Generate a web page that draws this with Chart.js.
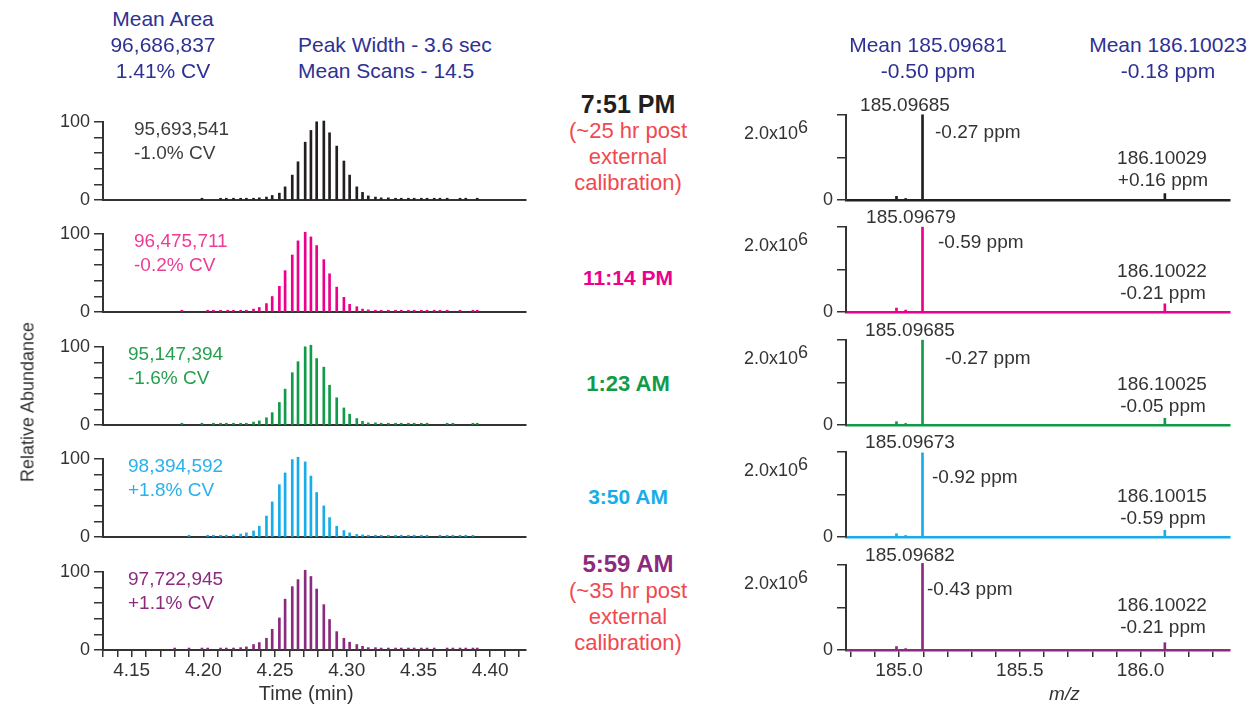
<!DOCTYPE html>
<html>
<head>
<meta charset="utf-8">
<title>Peak area and mass accuracy stability</title>
<script src="https://cdn.jsdelivr.net/npm/chart.js@4.4.1/dist/chart.umd.min.js"></script>
<style>
  html, body { margin: 0; padding: 0; background: #fff; }
  #page { position: relative; width: 1254px; height: 709px; overflow: hidden;
          font-family: "Liberation Sans", Arial, sans-serif; }
  #page canvas { position: absolute; }
  .txt { position: absolute; white-space: nowrap; line-height: 1; font-size: 19px; }
  .c { transform: translate(-50%, -50%); }
  .lft { transform: translate(0, -50%); }
  .hdr { color: #2e3192; font-size: 21px; }
  .time { font-weight: bold; }
  .note { color: #f0494f; font-size: 22px; }
  .ytitle { position: absolute; left: 28px; top: 402px; font-size: 18px; color: #333;
            white-space: nowrap; transform: translate(-50%, -50%) rotate(-90deg); }
</style>
</head>
<body>
<div id="page"></div>
<script>
// --- DATA ---
const runTimes = ['7:51 PM', '11:14 PM', '1:23 AM', '3:50 AM', '5:59 AM'];
const areaLabels = ['95,693,541', '96,475,711', '95,147,394', '98,394,592', '97,722,945'];
const cvLabels = ['-1.0% CV', '-0.2% CV', '-1.6% CV', '+1.8% CV', '+1.1% CV'];

// scan times (min) and relative abundance (%) per run
const scanTimes = [
  [4.199, 4.212, 4.216, 4.221, 4.226, 4.230, 4.235, 4.239, 4.244, 4.248, 4.253, 4.257, 4.262, 4.266,
   4.271, 4.275, 4.279, 4.284, 4.288, 4.293, 4.298, 4.302, 4.307, 4.311, 4.315, 4.320, 4.324, 4.329,
   4.334, 4.338, 4.343, 4.347, 4.352, 4.356, 4.361, 4.365, 4.370, 4.379, 4.383, 4.391],
  [4.185, 4.203, 4.207, 4.212, 4.217, 4.221, 4.226, 4.230, 4.235, 4.239, 4.244, 4.248, 4.253, 4.257,
   4.262, 4.266, 4.271, 4.275, 4.279, 4.284, 4.288, 4.293, 4.298, 4.302, 4.307, 4.311, 4.315, 4.320,
   4.324, 4.329, 4.334, 4.338, 4.343, 4.347, 4.352, 4.356, 4.361, 4.365, 4.370, 4.379, 4.388, 4.391],
  [4.185, 4.199, 4.207, 4.212, 4.216, 4.221, 4.226, 4.230, 4.235, 4.239, 4.244, 4.248, 4.253, 4.257,
   4.262, 4.266, 4.271, 4.275, 4.279, 4.284, 4.288, 4.293, 4.298, 4.302, 4.307, 4.311, 4.315, 4.320,
   4.324, 4.329, 4.334, 4.338, 4.343, 4.347, 4.352, 4.356, 4.370, 4.374, 4.388, 4.391],
  [4.190, 4.203, 4.207, 4.212, 4.216, 4.221, 4.226, 4.230, 4.235, 4.239, 4.244, 4.248, 4.253, 4.257,
   4.262, 4.266, 4.271, 4.275, 4.279, 4.284, 4.288, 4.293, 4.298, 4.302, 4.307, 4.311, 4.315, 4.320,
   4.324, 4.329, 4.334, 4.338, 4.343, 4.347, 4.352, 4.356, 4.365, 4.370, 4.374, 4.379, 4.383, 4.388],
  [4.180, 4.190, 4.199, 4.203, 4.212, 4.216, 4.221, 4.226, 4.230, 4.235, 4.239, 4.244, 4.248, 4.253,
   4.257, 4.262, 4.266, 4.271, 4.275, 4.279, 4.284, 4.288, 4.293, 4.298, 4.302, 4.307, 4.311, 4.315,
   4.320, 4.324, 4.329, 4.334, 4.338, 4.343, 4.347, 4.352, 4.356, 4.361, 4.370, 4.374, 4.379, 4.383,
   4.388, 4.391]
];
const scanAbund = [
  [2.5, 2.5, 2.5, 2.5, 2.5, 2.5, 2.5, 3, 4, 6, 9, 17, 32, 49, 74, 89, 100, 101, 86, 69, 50, 32,
   17, 10, 5.5, 4, 3, 3, 2.5, 2.5, 2.5, 2.5, 2.5, 2.5, 2.5, 2.5, 2.5, 2.5, 2.5, 2.5],
  [2.5, 2.5, 2.5, 2.5, 2.5, 2.5, 2.5, 2.5, 4, 6, 11, 20, 33, 53, 73, 91, 102, 96, 85, 67, 49, 32,
   19, 10, 7, 4, 3, 2.5, 2.5, 2.5, 2.5, 2.5, 2.5, 2.5, 2.5, 2.5, 2.5, 2.5, 2.5, 2.5, 2.5, 2.5],
  [2.5, 2.5, 2.5, 2.5, 2.5, 2.5, 2.5, 2.5, 4, 5.5, 9.5, 16, 29, 46, 67, 81, 100, 102, 85, 74, 51,
   35, 22, 14, 8.5, 5, 3, 3, 2.5, 2.5, 2.5, 2.5, 2.5, 2.5, 2.5, 2.5, 2.5, 2.5, 2.5, 2.5],
  [2.5, 2.5, 2.5, 2.5, 2.5, 3, 4, 5.5, 8, 14, 27, 45, 67, 82, 99, 102, 96, 78, 57, 40, 25, 14,
   8.5, 5.5, 3.5, 3, 2.5, 2.5, 2.5, 2.5, 2.5, 2.5, 2.5, 2.5, 2.5, 2.5, 2.5, 2.5, 2.5, 2.5, 2.5, 2.5],
  [2.5, 2.5, 2.5, 2.5, 2.5, 2.5, 2.5, 3, 4, 7, 9.5, 15, 26.5, 41, 65, 81, 90, 102, 94, 78, 58, 39,
   23.5, 15, 10, 7, 4.7, 3, 3, 2.5, 2.5, 2.5, 2.5, 2.5, 2.5, 2.5, 2.5, 2.5, 2.5, 2.5, 2.5, 2.5,
   2.5, 2.5]
];

// spectra: m/z and intensity per run
const specMz = [
  [184.989, 185.027, 185.09685, 186.10029],
  [184.989, 185.027, 185.09679, 186.10022],
  [184.989, 185.027, 185.09685, 186.10025],
  [184.989, 185.027, 185.09673, 186.10015],
  [184.989, 185.027, 185.09682, 186.10022]
];
const specInt = [
  [0.11e6, 0.05e6, 2.45e6, 0.19e6],
  [0.12e6, 0.06e6, 2.44e6, 0.24e6],
  [0.10e6, 0.05e6, 2.44e6, 0.20e6],
  [0.10e6, 0.05e6, 2.42e6, 0.20e6],
  [0.10e6, 0.04e6, 2.49e6, 0.21e6]
];
const mainPpm = ['-0.27 ppm', '-0.59 ppm', '-0.27 ppm', '-0.92 ppm', '-0.43 ppm'];
const isoPpm = ['+0.16 ppm', '-0.21 ppm', '-0.05 ppm', '-0.59 ppm', '-0.21 ppm'];

// --- LAYOUT / STYLE ---
const panelColors = ['#231f20', '#ec008c', '#119b48', '#17ade8', '#8b2a7f'];
const labelColors = ['#3d3d3d', '#ec3c94', '#26a04f', '#29b1ea', '#8b2a7f'];
const axisColor = '#333';
const rowBase = [200, 312, 425, 537, 650];      // y of the zero line in each row
const areaX = [134, 134, 128, 128, 128];
const mainLabelX = [905, 911, 910, 910, 910];
const mainPpmX = [935, 938, 945, 932, 927];
const mainPpmDy = [-69, -71, -68, -61, -62];
const isoDy = [-43, -42, -42, -42, -46];
const timeY = [104, 277, 384, 496, 564];
const timeSize = [25, 21, 22, 21, 24];

Chart.defaults.font.family = '"Liberation Sans", Arial, sans-serif';
Chart.defaults.font.size = 18;
Chart.defaults.color = axisColor;

const page = document.getElementById('page');

function addText(text, x, y, cls, color) {
  const d = document.createElement('div');
  d.className = 'txt ' + cls;
  d.style.left = x + 'px';
  d.style.top = y + 'px';
  if (color) d.style.color = color;
  d.textContent = text;
  page.appendChild(d);
  return d;
}

function makeCanvas(left, w, h) {
  const cv = document.createElement('canvas');
  cv.width = w; cv.height = h;
  cv.style.left = left + 'px';
  cv.style.top = '0px';
  page.appendChild(cv);
  return cv;
}

// grow/shrink the canvas so the plot area is plotH tall, then sit its baseline on y0
function fitRow(chart, cv, plotH, y0) {
  const a = chart.chartArea;
  const extra = Math.round(plotH - (a.bottom - a.top));
  if (extra !== 0) chart.resize(cv.width, chart.height + extra);
  cv.style.top = Math.round(y0 - chart.chartArea.bottom) + 'px';
}

// "2.0x10^6" label on the spectrum y axis
const sciLabel = {
  id: 'sciLabel',
  afterDraw(chart) {
    const ys = chart.scales.y, ctx = chart.ctx;
    const py = ys.getPixelForValue(2e6);
    const right = ys.right - 38;
    ctx.save();
    ctx.font = '18px "Liberation Sans", Arial, sans-serif';
    ctx.fillStyle = axisColor;
    ctx.textBaseline = 'middle';
    ctx.textAlign = 'right';
    const w6 = ctx.measureText('6').width;
    ctx.fillText('6', right, py - 2);
    ctx.fillText('2.0x10', right - w6, py + 4);
    ctx.restore();
  }
};

// --- CHROMATOGRAMS ---
function buildChrom(i) {
  const bottom = i === rowBase.length - 1;
  const xH = bottom ? 56 : 6;
  const cv = makeCanvas(0, 540, 120 + xH);
  const chart = new Chart(cv, {
    type: 'bar',
    data: {
      datasets: [{
        data: scanTimes[i].map((t, k) => ({ x: t, y: scanAbund[i][k] })),
        backgroundColor: panelColors[i], barThickness: 2, clip: false
      }]
    },
    options: {
      responsive: false, maintainAspectRatio: false, animation: false, events: [],
      layout: { padding: { top: 8, right: 14, left: 0, bottom: 0 } },
      plugins: { legend: { display: false }, tooltip: { enabled: false } },
      scales: {
        x: {
          type: 'linear', min: 4.13, max: 4.425, offset: false,
          grid: { offset: false, drawOnChartArea: false, drawTicks: bottom, tickLength: 7, color: axisColor, lineWidth: 1.5 },
          border: { color: axisColor, width: 2 },
          ticks: {
            display: bottom, stepSize: 0.01, includeBounds: false, autoSkip: false,
            maxRotation: 0, minRotation: 0, padding: 2, font: { size: 19 },
            callback: v => (Math.round(v * 100) % 5 === 0 ? v.toFixed(2) : '')
          },
          title: { display: bottom, text: 'Time (min)   ', padding: 0, font: { size: 20 } },
          afterFit: s => { s.height = xH; }
        },
        y: {
          min: 0, max: 100,
          grid: { drawOnChartArea: false, tickLength: 9, color: axisColor, lineWidth: 1.5 },
          border: { color: axisColor, width: 2 },
          ticks: { stepSize: 20, padding: 4, autoSkip: false, callback: v => (v === 0 || v === 100 ? String(v) : '') },
          afterFit: s => { s.width = 103; }
        }
      }
    }
  });
  fitRow(chart, cv, 78, rowBase[i]);
  addText(areaLabels[i], areaX[i], rowBase[i] - 72, 'lft', labelColors[i]);
  addText(cvLabels[i], areaX[i], rowBase[i] - 48, 'lft', labelColors[i]);
}

// --- SPECTRA ---
function buildSpec(i) {
  const bottom = i === rowBase.length - 1;
  const xH = bottom ? 56 : 6;
  const cv = makeCanvas(740, 500, 125 + xH);
  const chart = new Chart(cv, {
    type: 'bar',
    data: {
      datasets: [{
        data: specMz[i].map((m, k) => ({ x: m, y: specInt[i][k] })),
        backgroundColor: panelColors[i], barThickness: 2, clip: false
      }]
    },
    options: {
      responsive: false, maintainAspectRatio: false, animation: false, events: [],
      layout: { padding: { top: 8, right: 10, left: 0, bottom: 0 } },
      plugins: { legend: { display: false }, tooltip: { enabled: false } },
      scales: {
        x: {
          type: 'linear', min: 184.78, max: 186.37, offset: false,
          grid: { offset: false, drawOnChartArea: false, drawTicks: bottom, tickLength: 7, color: axisColor, lineWidth: 1.5 },
          border: { color: panelColors[i], width: 2.5 },
          ticks: {
            display: bottom, stepSize: 0.1, includeBounds: false, autoSkip: false,
            maxRotation: 0, minRotation: 0, padding: 2, font: { size: 19 },
            callback: v => (Math.round(v * 10) % 5 === 0 ? v.toFixed(1) : '')
          },
          title: { display: bottom, text: '          m/z', padding: 0, font: { style: 'italic', size: 19 } },
          afterFit: s => { s.height = xH; }
        },
        y: {
          min: 0, max: 2.45e6,
          grid: { drawOnChartArea: false, tickLength: 9, color: axisColor, lineWidth: 1.5 },
          border: { color: axisColor, width: 2 },
          ticks: { stepSize: 1e6, padding: 4, autoSkip: false, callback: v => (v === 0 ? '0' : '') },
          afterFit: s => { s.width = 106; }
        }
      }
    },
    plugins: [sciLabel]
  });
  const y0 = rowBase[i];
  fitRow(chart, cv, 85, y0);
  addText(specMz[i][2].toFixed(5), mainLabelX[i], y0 - 96, 'c', '#333');
  addText(mainPpm[i], mainPpmX[i], y0 + mainPpmDy[i], 'lft', '#333');
  addText(specMz[i][3].toFixed(5), 1162, y0 + isoDy[i], 'c', '#333');
  addText(isoPpm[i], 1163, y0 + isoDy[i] + 22, 'c', '#333');
}

for (let i = 0; i < rowBase.length; i++) {
  buildChrom(i);
  buildSpec(i);
}

// --- HEADERS AND RUN LABELS ---
addText('Mean Area', 163, 18, 'c hdr');
addText('96,686,837', 163, 44, 'c hdr');
addText('1.41% CV', 163, 70, 'c hdr');
addText('Peak Width - 3.6 sec', 298, 44, 'lft hdr');
addText('Mean Scans - 14.5', 298, 70, 'lft hdr');
addText('Mean 185.09681', 928, 44, 'c hdr');
addText('-0.50 ppm', 928, 70, 'c hdr');
addText('Mean 186.10023', 1168, 44, 'c hdr');
addText('-0.18 ppm', 1168, 70, 'c hdr');

runTimes.forEach((t, i) => {
  const d = addText(t, 628, timeY[i], 'c time', i === 0 ? '#231f20' : panelColors[i]);
  d.style.fontSize = timeSize[i] + 'px';
});
['(~25 hr post', 'external', 'calibration)'].forEach((t, k) => addText(t, 628, 131 + 26 * k, 'c note'));
['(~35 hr post', 'external', 'calibration)'].forEach((t, k) => addText(t, 628, 591 + 26 * k, 'c note'));

const yt = document.createElement('div');
yt.className = 'ytitle';
yt.textContent = 'Relative Abundance';
page.appendChild(yt);
</script>
</body>
</html>
